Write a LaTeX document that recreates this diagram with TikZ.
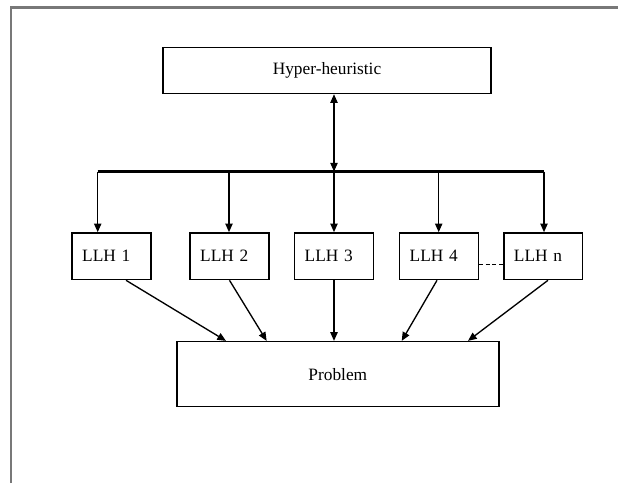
\documentclass[tikz,border=0pt]{standalone}
\usepackage{fontspec}
\setmainfont{Liberation Serif}
\usetikzlibrary{arrows.meta}
\definecolor{framegray}{RGB}{120,120,120}
\begin{document}
\begin{tikzpicture}[x=0.75pt,y=-0.75pt,
  box/.style={draw=black, line width=1.1pt, fill=white, inner sep=0pt,
    font=\fontsize{13}{15}\selectfont},
  llh/.style={box, minimum width=59pt, minimum height=35pt,
    text width=44pt, align=left},
  tip/.tip={Triangle[length=6.5pt,width=5.5pt]},
  link/.style={line width=1pt, -tip},
  both/.style={line width=1pt, tip-tip},
  bus/.style={line width=1.6pt},
  frameline/.style={draw=framegray, line width=1.6pt}]
\useasboundingbox (0,0) rectangle (618,483);

% page frame
\draw[frameline] (11,483) -- (11,7.5) -- (618,7.5);

% top controller
\node[box, minimum width=246pt, minimum height=34.5pt] (hh) at (327,70.5) {Hyper-heuristic};

% low-level heuristics
\node[llh] (l1) at (111.5,256.25) {LLH 1};
\node[llh] (l2) at (229.5,256.25) {LLH 2};
\node[llh] (l3) at (334,256.25) {LLH 3};
\node[llh] (l4) at (439,256.25) {LLH 4};
\node[llh] (ln) at (543.3,256.25) {LLH n};

% problem domain
\node[box, minimum width=241.5pt, minimum height=48.75pt] (pb) at (337.85,374.1) {Problem};

% distribution bus
\coordinate (b1) at (97.7,171.5);
\coordinate (b2) at (229,171.5);
\coordinate (b3) at (334,171.5);
\coordinate (b4) at (438.7,171.5);
\coordinate (b5) at (544,171.5);
\draw[bus] (b1) -- (b5);

\draw[both] (b3 |- hh.south) -- (b3);
\draw[link] (b1) -- (b1 |- l1.north);
\draw[link] (b2) -- (b2 |- l2.north);
\draw[link] (b3) -- (b3 |- l3.north);
\draw[link] (b4) -- (b4 |- l4.north);
\draw[link] (b5) -- (b5 |- ln.north);

% ellipsis between LLH 4 and LLH n
\draw[line width=0.7pt, dash pattern=on 3pt off 2pt]
  ([yshift=-5.8pt]l4.east) -- ([yshift=-5.8pt]ln.west);

% heuristics acting on the problem
\draw[link] ([xshift=10.9pt]l1.south) -- ([xshift=-83.9pt]pb.north);
\draw[link] (l2.south) -- ([xshift=-53.4pt]pb.north);
\draw[link] (l3.south) -- (l3.south |- pb.north);
\draw[link] ([xshift=-1.5pt]l4.south) -- ([xshift=47.9pt]pb.north);
\draw[link] ([xshift=3.5pt]ln.south) -- ([xshift=97.6pt]pb.north);
\end{tikzpicture}
\end{document}
